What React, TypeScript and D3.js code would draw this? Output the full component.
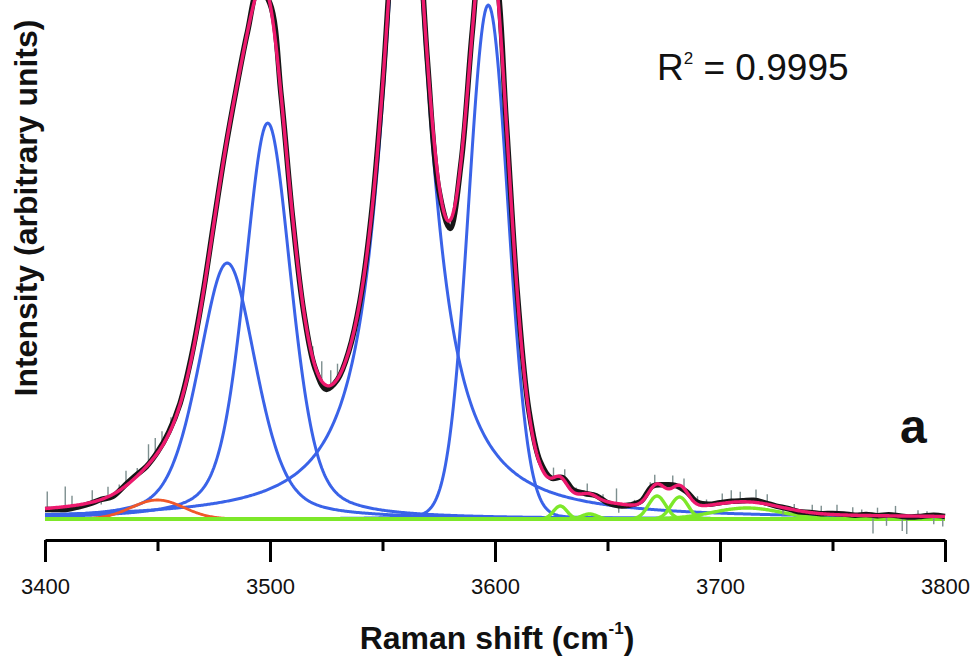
import * as d3 from "d3";
import { useEffect, useRef } from "react";

// fitted band components
const peakCenters = [3481, 3499, 3560.4, 3597, 3450, 3629, 3642, 3672, 3682, 3712];
const peakHeights = [2560, 3960, 6840, 5140, 190, 130, 50, 230, 220, 110];
const peakHalfWidths = [15.1, 12.4, 13.0, 10.4, 13.7, 3.5, 4.0, 4.5, 4.5, 18];
const peakLorentz = [0.4, 0.4, 1, 0.05, 0, 0, 0, 0, 0, 0];
const peakKinds = ["main", "main", "main", "main", "low", "weak", "weak", "weak", "weak", "weak"];

// measured spectrum: residual vs. the fit, every 5 cm-1 from 3400
const residualStart = 3400;
const residualStep = 5;
const residuals = [
  -10, -20, -30, -20, -10, 0, -20, 10, 20, 0,
  10, 20, 10, 20, 10, 10, 0, 0, 0, 0,
  0, 0, -10, -10, -20, -40, -10, 0, 0, 10,
  0, 0, 0, 0, -10, -60, -80, -20, 0, 0,
  0, 0, 10, 20, 30, 0, 10, 20, 0, 10,
  -10, -20, 0, 10, 10, 20, 10, 0, 20, 10,
  10, 10, 10, 20, 10, 0, 0, -10, 0, 0,
  10, 10, 0, 10, 0, 10, 0, -10, 0, 10, 0,
];

// noise spikes of the raw data
const spikeWavenumbers = [
  3401, 3404, 3409, 3412, 3417, 3421, 3425, 3428, 3433, 3436,
  3441, 3446, 3449, 3452, 3456, 3460, 3519, 3523, 3527, 3530,
  3535, 3574, 3577, 3582, 3622, 3626, 3631, 3636, 3641, 3648,
  3654, 3655, 3662, 3669, 3671, 3679, 3684, 3690, 3694, 3701,
  3705, 3709, 3716, 3721, 3728, 3733, 3741, 3745, 3752, 3759,
  3763, 3768, 3770, 3774, 3778, 3781, 3783, 3788, 3792, 3795, 3799,
];
const spikeSizes = [
  170, -40, 200, 100, -30, 120, -50, 100, 60, 150,
  80, 200, 180, 150, 120, 80, 120, 200, 150, 150,
  60, -40, -60, 50, 80, 100, 120, 60, 100, 60,
  150, -90, 50, 80, 100, 120, 100, 80, 60, 100,
  120, 100, 130, 100, -80, 60, 80, 80, 100, 80,
  60, -180, 80, -100, 100, -150, -180, 60, 50, -80, -100,
];

const xTicks = [3400, 3500, 3600, 3700, 3800];
const xMinorTicks = [3450, 3550, 3650, 3750];
const fitQuality = "0.9995";
const panelLabel = "a";

const kindColor = { main: "#3a63e8", low: "#f0582a", weak: "#7de82a" };
const kindWidth = { main: 3, low: 2.8, weak: 3.4 };
const font = "'Liberation Sans', Arial, sans-serif";

function band(w, i) {
  const r = (w - peakCenters[i]) / peakHalfWidths[i];
  const eta = peakLorentz[i];
  return peakHeights[i] * (eta / (1 + r * r) + (1 - eta) * Math.exp(-Math.LN2 * r * r));
}
const envelope = (w) => d3.sum(peakCenters, (_, i) => band(w, i));

export default function App() {
  const ref = useRef(null);

  useEffect(() => {
    const width = 978;
    const height = 659;
    const svg = d3.select(ref.current);
    svg.selectAll("*").remove();
    svg.attr("width", width).attr("height", height);

    const x = d3.scaleLinear().domain([3400, 3800]).range([45, 945]);
    const y = d3.scaleLinear().domain([0, 5190]).range([519, 0]);

    const grid = d3.range(3400, 3800.001, 0.5);
    const line = d3
      .line()
      .x((d) => x(d[0]))
      .y((d) => y(d[1]));

    // components
    const comp = svg.append("g").attr("fill", "none");
    peakCenters.forEach((_, i) => {
      comp
        .append("path")
        .attr("d", line(grid.map((w) => [w, band(w, i)])))
        .attr("stroke", kindColor[peakKinds[i]])
        .attr("stroke-width", kindWidth[peakKinds[i]])
        .attr("stroke-linejoin", "round");
    });

    // raw data spikes
    svg
      .append("g")
      .selectAll("line")
      .data(spikeWavenumbers)
      .enter()
      .append("line")
      .attr("x1", (d) => x(d))
      .attr("x2", (d) => x(d))
      .attr("y1", (d) => y(envelope(d)))
      .attr("y2", (d, i) => y(envelope(d) + spikeSizes[i]))
      .attr("stroke", "#7d8f8f")
      .attr("stroke-width", 1.4);

    // measured spectrum
    const measured = residuals.map((r, i) => {
      const w = residualStart + i * residualStep;
      return [w, envelope(w) + r];
    });
    const measuredLine = d3
      .line()
      .x((d) => x(d[0]))
      .y((d) => y(d[1]))
      .curve(d3.curveCatmullRom);
    svg
      .append("path")
      .attr("d", measuredLine(measured))
      .attr("fill", "none")
      .attr("stroke", "#161616")
      .attr("stroke-width", 5.5)
      .attr("stroke-linejoin", "round");

    // cumulative fit
    svg
      .append("path")
      .attr("d", line(grid.map((w) => [w, envelope(w)])))
      .attr("fill", "none")
      .attr("stroke", "#ee1a6e")
      .attr("stroke-width", 3.4)
      .attr("stroke-linejoin", "round");

    // x axis
    const axisG = svg.append("g").attr("transform", "translate(0,540)");
    axisG.call(
      d3.axisBottom(x).tickValues(xTicks).tickSizeInner(22).tickSizeOuter(0).tickPadding(16).tickFormat(d3.format("d"))
    );
    axisG.select(".domain").attr("stroke-width", 3);
    axisG.selectAll(".tick line").attr("stroke-width", 3);
    axisG.selectAll(".tick text").attr("font-size", 22).attr("font-family", font).attr("fill", "#111");

    const minorG = svg.append("g").attr("transform", "translate(0,540)");
    minorG.call(d3.axisBottom(x).tickValues(xMinorTicks).tickSize(11).tickFormat(() => ""));
    minorG.select(".domain").remove();
    minorG.selectAll(".tick line").attr("stroke-width", 3);

    // titles
    const xt = svg
      .append("text")
      .attr("x", 497)
      .attr("y", 649)
      .attr("text-anchor", "middle")
      .attr("font-family", font)
      .attr("font-weight", "bold")
      .attr("font-size", 32)
      .attr("fill", "#111");
    xt.append("tspan").text("Raman shift (cm");
    xt.append("tspan").attr("font-size", 17).attr("dy", -15).text("-1");
    xt.append("tspan").attr("dy", 15).text(")");

    svg
      .append("text")
      .attr("transform", "translate(37,208) rotate(-90)")
      .attr("text-anchor", "middle")
      .attr("font-family", font)
      .attr("font-weight", "bold")
      .attr("font-size", 32)
      .attr("fill", "#111")
      .text("Intensity (arbitrary units)");

    const r2 = svg
      .append("text")
      .attr("x", 657)
      .attr("y", 80)
      .attr("font-family", font)
      .attr("font-size", 37)
      .attr("fill", "#111");
    r2.append("tspan").text("R");
    r2.append("tspan").attr("font-size", 17).attr("dy", -16).text("2");
    r2.append("tspan").attr("dy", 16).text(` = ${fitQuality}`);

    svg
      .append("text")
      .attr("x", 900)
      .attr("y", 443)
      .attr("font-family", font)
      .attr("font-weight", "bold")
      .attr("font-size", 48)
      .attr("fill", "#111")
      .text(panelLabel);
  }, []);

  return (
    <svg
      ref={ref}
      style={{ position: "absolute", left: 0, top: 0, background: "#fff" }}
    ></svg>
  );
}
